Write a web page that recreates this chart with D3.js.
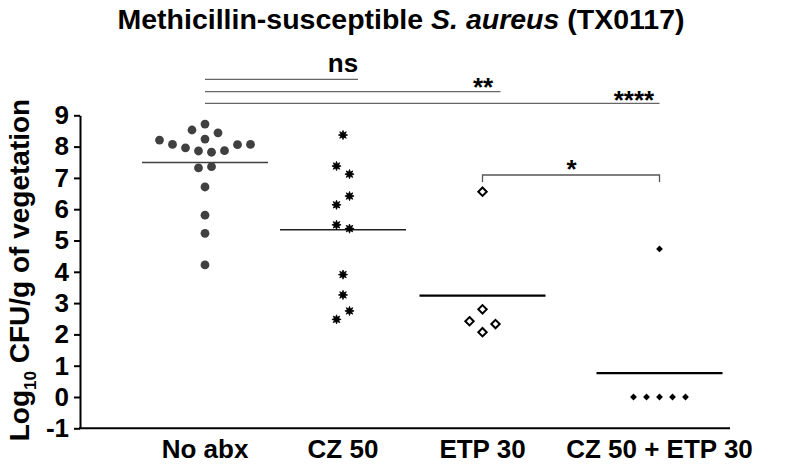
<!DOCTYPE html>
<html>
<head>
<meta charset="utf-8">
<script src="https://cdn.jsdelivr.net/npm/d3@7"></script>
<style>
    body { margin: 0; background: #fff; }
    svg { display: block; font-family: "Liberation Sans", Arial, sans-serif; }
</style>
</head>
<body>
<script>
(function(){

    //data (log10 CFU/g), in entry order
    var groups = ["No abx", "CZ 50", "ETP 30", "CZ 50 + ETP 30"];
    var noAbx = [4.22, 5.23, 5.81, 6.71, 7.36, 7.32, 7.82, 7.86, 7.87, 7.96, 8.06, 8.07, 8.07, 8.21, 8.24, 8.44, 8.53, 8.72];
    var cz50 = [2.75, 2.48, 3.26, 3.91, 5.38, 5.50, 6.42, 6.14, 7.12, 7.38, 8.37];
    var etp30 = [2.07, 2.33, 2.42, 2.80, 6.56];
    var czEtp = [0, 0, 0, 0, 0, 4.73];
    var means = [7.49, 5.34, 3.24, 0.76];
    var yTicks = [-1, 0, 1, 2, 3, 4, 5, 6, 7, 8, 9];

    //significance comparisons (group index pairs + label)
    var sigPairs = [[0, 1], [0, 2], [0, 3], [2, 3]];
    var sigLabels = ["ns", "**", "****", "*"];

    var width = 788, height = 468;

    var svg = d3.select("body").append("svg")
        .attr("width", width)
        .attr("height", height);

    var y = d3.scaleLinear().domain([-1, 9]).range([428.3, 115.3]);
    var x = d3.scaleOrdinal().domain(groups).range([205, 343, 482.5, 659.5]);
    var axisX = 80, slot = 13, halfMean = 63;

    //title
    var title = svg.append("text")
        .attr("x", 401).attr("y", 29)
        .attr("text-anchor", "middle")
        .style("font-weight", "bold").style("font-size", "28.5px");
    title.append("tspan").text("Methicillin-susceptible ");
    title.append("tspan").style("font-style", "italic").text("S. aureus");
    title.append("tspan").text(" (TX0117)");

    //y axis title
    var ytitle = svg.append("text")
        .attr("transform", "translate(29,270) rotate(-90)")
        .attr("text-anchor", "middle")
        .style("font-weight", "bold").style("font-size", "28px");
    ytitle.append("tspan").text("Log");
    ytitle.append("tspan").attr("dy", 7).style("font-size", "17px").text("10");
    ytitle.append("tspan").attr("dy", -7).text(" CFU/g of vegetation");

    //y axis
    var yAxis = d3.axisLeft(y)
        .tickValues(yTicks)
        .tickSize(6)
        .tickSizeOuter(0)
        .tickPadding(5)
        .tickFormat(function(d){ return String(d); });

    var axis = svg.append("g")
        .attr("transform", "translate(" + axisX + ",0)")
        .call(yAxis);
    axis.select(".domain").attr("stroke", "#000").attr("stroke-width", 2);
    axis.selectAll(".tick line").attr("stroke", "#000").attr("stroke-width", 2);
    axis.selectAll(".tick text")
        .attr("fill", "#000")
        .style("font-family", "Liberation Sans, Arial, sans-serif")
        .style("font-weight", "bold").style("font-size", "26px");

    //x axis base line
    svg.append("line")
        .attr("x1", axisX - 1).attr("x2", 730)
        .attr("y1", y(-1)).attr("y2", y(-1))
        .attr("stroke", "#000").attr("stroke-width", 2);

    //x category labels
    svg.selectAll(".xlab")
        .data(groups)
        .enter()
        .append("text")
        .attr("class", "xlab")
        .attr("x", function(d){ return x(d); })
        .attr("y", 458)
        .attr("text-anchor", "middle")
        .style("font-weight", "bold").style("font-size", "26px")
        .text(function(d){ return d; });

    //scatter layout: values within ~0.4 log share a row, spread around the column centre
    function swarm(values){
        var idx = values.map(function(v, i){ return i; });
        idx.sort(function(a, b){ return values[a] - values[b] || a - b; });
        var rows = [], cur = null;
        idx.forEach(function(i){
            if (cur && values[i] - values[cur[0]] < 0.4) cur.push(i);
            else { cur = [i]; rows.push(cur); }
        });
        var off = new Array(values.length);
        rows.forEach(function(r){
            r.sort(function(a, b){ return a - b; });
            var n = r.length;
            r.forEach(function(i, k){
                var o;
                if (n % 2) o = k === 0 ? 0 : (k % 2 ? Math.ceil(k / 2) : -k / 2);
                else o = k % 2 ? -((k - 1) / 2 + 0.5) : (k / 2 + 0.5);
                off[i] = o;
            });
        });
        return values.map(function(v, i){ return { value: v, off: off[i] }; });
    }

    //custom symbols
    var star8 = { draw: function(ctx, r){
        for (var i = 0; i < 16; i++) {
            var a = i * Math.PI / 8 - Math.PI / 2, rr = i % 2 ? r * 0.5 : r;
            if (i === 0) ctx.moveTo(rr * Math.cos(a), rr * Math.sin(a));
            else ctx.lineTo(rr * Math.cos(a), rr * Math.sin(a));
        }
        ctx.closePath();
    }};
    var diamond = { draw: function(ctx, r){
        ctx.moveTo(0, -r); ctx.lineTo(r, 0); ctx.lineTo(0, r); ctx.lineTo(-r, 0); ctx.closePath();
    }};
    var circle = { draw: function(ctx, r){ ctx.arc(0, 0, r, 0, 2 * Math.PI); }};

    var styles = [
        { type: circle, size: 4.4, fill: "#404040", stroke: "none", sw: 0 },
        { type: star8, size: 4.6, fill: "#000", stroke: "#000", sw: 0.8 },
        { type: diamond, size: 4.2, fill: "#fff", stroke: "#000", sw: 2 },
        { type: diamond, size: 3.4, fill: "#000", stroke: "none", sw: 0 }
    ];
    var meanStroke = [{ c: "#404040", w: 1.5 }, { c: "#202020", w: 1.5 }, { c: "#000", w: 2.2 }, { c: "#000", w: 2.2 }];

    [noAbx, cz50, etp30, czEtp].forEach(function(vals, g){
        var cx = x(groups[g]), st = styles[g];
        var sym = d3.symbol().type(st.type).size(st.size);

        //mean line
        svg.append("line")
            .attr("x1", cx - halfMean).attr("x2", cx + halfMean)
            .attr("y1", y(means[g])).attr("y2", y(means[g]))
            .attr("stroke", meanStroke[g].c).attr("stroke-width", meanStroke[g].w);

        svg.selectAll(".pt" + g)
            .data(swarm(vals))
            .enter()
            .append("path")
            .attr("class", "pt" + g)
            .attr("d", sym)
            .attr("transform", function(d){ return "translate(" + (cx + d.off * slot) + "," + y(d.value) + ")"; })
            .attr("fill", st.fill)
            .attr("stroke", st.stroke)
            .attr("stroke-width", st.sw);
    });

    //significance lines
    var sigY = [79.3, 91.7, 103.3, 175];
    var sigExtend = [15, 18, 0, 0];
    var sigTextX = [343, 483, 634, 571.5];
    var sigTextY = [71.5, 95.5, 108.5, 178];
    sigPairs.forEach(function(p, i){
        var x1 = x(groups[p[0]]), x2 = x(groups[p[1]]);
        if (i === 3) {
            svg.append("path")
                .attr("d", "M" + x1 + "," + (sigY[i] + 7) + "V" + sigY[i] + "H" + x2 + "V" + (sigY[i] + 7))
                .attr("fill", "none").attr("stroke", "#555").attr("stroke-width", 1.3);
        } else {
            svg.append("line")
                .attr("x1", x1).attr("x2", x2 + sigExtend[i])
                .attr("y1", sigY[i]).attr("y2", sigY[i])
                .attr("stroke", "#666").attr("stroke-width", 1.2);
        }
        svg.append("text")
            .attr("x", sigTextX[i]).attr("y", sigTextY[i])
            .attr("text-anchor", "middle")
            .style("font-weight", "bold").style("font-size", "26px")
            .text(sigLabels[i]);
    });

})();
</script>
</body>
</html>
